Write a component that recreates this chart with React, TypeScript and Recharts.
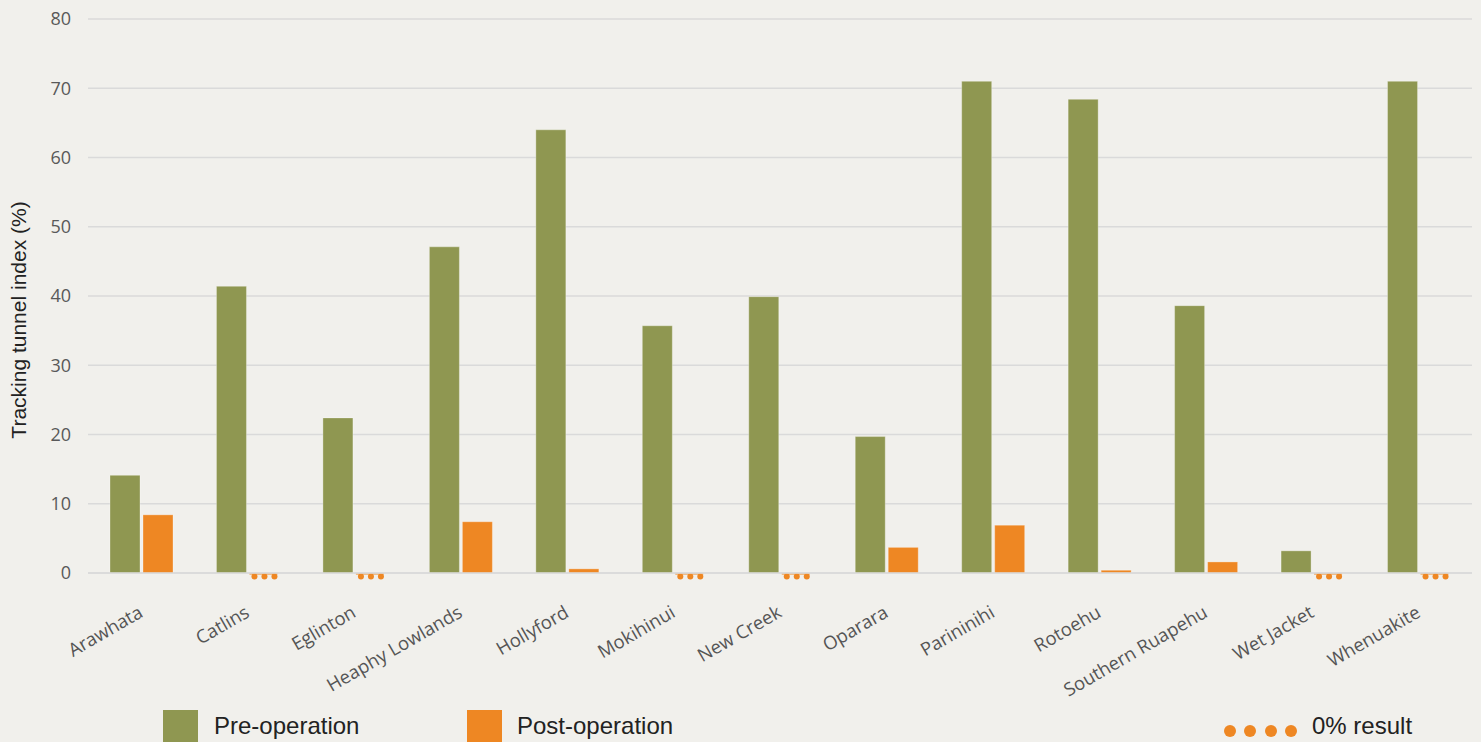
import React from 'react';
import { BarChart, Bar, XAxis, YAxis, CartesianGrid, Label } from 'recharts';

const sites = [
  'Arawhata', 'Catlins', 'Eglinton', 'Heaphy Lowlands', 'Hollyford', 'Mokihinui', 'New Creek',
  'Oparara', 'Parininihi', 'Rotoehu', 'Southern Ruapehu', 'Wet Jacket', 'Whenuakite',
];
const preOperation = [14.1, 41.4, 22.4, 47.1, 64.0, 35.7, 39.9, 19.7, 71.0, 68.4, 38.6, 3.2, 71.0];
const postOperation = [8.4, 0, 0, 7.4, 0.6, 0, 0, 3.7, 6.9, 0.4, 1.6, 0, 0];
const yTicks = [0, 10, 20, 30, 40, 50, 60, 70, 80];

const data = sites.map((site, i) => ({ site, pre: preOperation[i], post: postOperation[i] }));

const GREEN = '#8f9751';
const ORANGE = '#ee8723';
const BG = '#f1f0ec';
const TICK_FONT = '"Open Sans", sans-serif';
const SANS = '"Liberation Sans", Arial, sans-serif';

const XTick = (props: any) => {
  const { x, y, payload } = props;
  const ax = x + 3;
  const ay = y + 35;
  return (
    <text
      x={ax}
      y={ay}
      transform={`rotate(-30, ${ax}, ${ay})`}
      textAnchor="end"
      fill="#555555"
      fontSize={18.5}
      fontFamily={TICK_FONT}
    >
      {payload.value}
    </text>
  );
};

const PostShape = (props: any) => {
  const { x, y, width, height, payload } = props;
  if (payload && payload.post === 0) {
    return (
      <g>
        <line x1={x} x2={x + width - 2} y1={y + 1} y2={y + 1} stroke={ORANGE} strokeWidth={1} />
        <circle cx={x + width / 6} cy={y + 3.5} r={3} fill={ORANGE} />
        <circle cx={x + width / 2} cy={y + 3.5} r={3} fill={ORANGE} />
        <circle cx={x + (5 * width) / 6} cy={y + 3.5} r={3} fill={ORANGE} />
      </g>
    );
  }
  return (
    <rect
      x={x}
      y={y}
      width={width}
      height={height}
      fill={ORANGE}
      stroke="rgba(255,255,255,0.3)"
      strokeWidth={1}
    />
  );
};

const YLabel = () => (
  <text
    x={18}
    y={320}
    transform="rotate(-90, 18, 320)"
    textAnchor="middle"
    dominantBaseline="central"
    fill="#222"
    fontSize={21}
    fontFamily={SANS}
  >
    Tracking tunnel index (%)
  </text>
);

export default function App() {
  return (
    <div
      style={{
        position: 'absolute',
        left: 0,
        top: 0,
        width: 1481,
        height: 742,
        background: BG,
        overflow: 'hidden',
      }}
    >
      <BarChart
        width={1481}
        height={742}
        data={data}
        margin={{ top: 19, right: 9, left: 0, bottom: 0 }}
        barGap={3}
        barSize={30}
      >
        <CartesianGrid vertical={false} stroke="#dadada" strokeWidth={1.5} />
        <XAxis
          dataKey="site"
          height={169}
          interval={0}
          tickLine={false}
          axisLine={{ stroke: '#dadada', strokeWidth: 1.5 }}
          tick={<XTick />}
        />
        <YAxis
          width={88}
          domain={[0, 80]}
          ticks={yTicks}
          axisLine={false}
          tickLine={false}
          tickSize={6}
          tickMargin={11}
          tick={{ fill: '#595959', fontSize: 18, fontFamily: TICK_FONT }}
        >
          <Label content={<YLabel />} />
        </YAxis>
        <Bar
          dataKey="pre"
          fill={GREEN}
          stroke="rgba(255,255,255,0.3)"
          strokeWidth={1}
          isAnimationActive={false}
        />
        <Bar dataKey="post" fill={ORANGE} shape={<PostShape />} isAnimationActive={false} />
      </BarChart>

      <div style={{ position: 'absolute', left: 163, top: 710, width: 35, height: 35, background: GREEN }} />
      <div
        style={{
          position: 'absolute',
          left: 214,
          top: 714,
          fontFamily: SANS,
          fontSize: 24,
          lineHeight: '24px',
          color: '#222',
          whiteSpace: 'nowrap',
        }}
      >
        Pre-operation
      </div>
      <div style={{ position: 'absolute', left: 467, top: 710, width: 35, height: 35, background: ORANGE }} />
      <div
        style={{
          position: 'absolute',
          left: 517,
          top: 714,
          fontFamily: SANS,
          fontSize: 24,
          lineHeight: '24px',
          color: '#222',
          whiteSpace: 'nowrap',
        }}
      >
        Post-operation
      </div>
      {[1230, 1250, 1270.5, 1291].map((cx) => (
        <div
          key={cx}
          style={{
            position: 'absolute',
            left: cx - 6,
            top: 725,
            width: 12,
            height: 12,
            borderRadius: 6,
            background: ORANGE,
          }}
        />
      ))}
      <div
        style={{
          position: 'absolute',
          left: 1312,
          top: 714,
          fontFamily: SANS,
          fontSize: 24,
          lineHeight: '24px',
          color: '#222',
          whiteSpace: 'nowrap',
        }}
      >
        0% result
      </div>
    </div>
  );
}
